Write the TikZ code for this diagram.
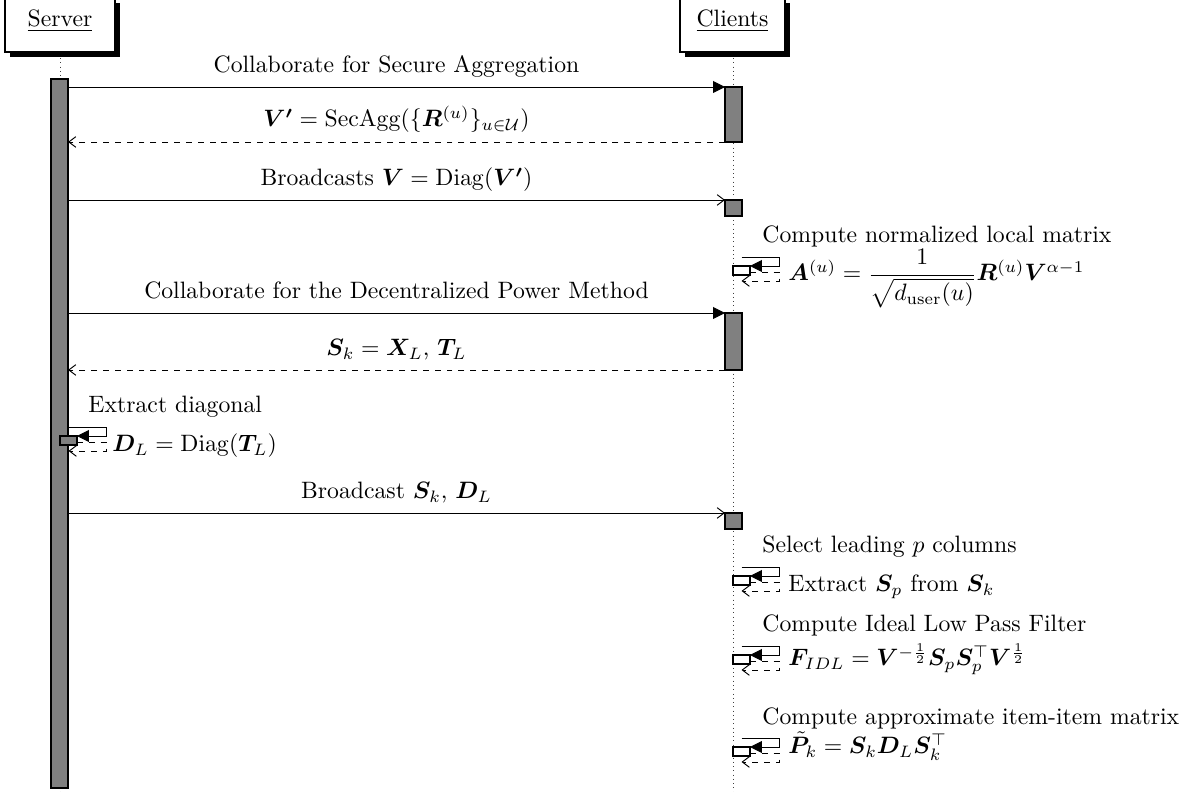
\documentclass[tikz,border=0pt]{standalone}
\usepackage{amsmath,amssymb,bm}
\usetikzlibrary{arrows.meta}
\definecolor{actgray}{RGB}{128,128,128}
\newcommand\mycall[4]{% #1 lifeline x, #2 top y, #3 box fill, #4 name
  \pgfmathsetmacro\ca{#1+8.5}\pgfmathsetmacro\cb{#1+46}\pgfmathsetmacro\cc{#1+17}%
  \pgfmathsetmacro\ty{#2+9}\pgfmathsetmacro\tb{#2+18}\pgfmathsetmacro\td{#2+15}\pgfmathsetmacro\te{#2+24}%
  \coordinate (#4s) at (\ca,#2);
  \coordinate (#4c1) at (\cb,#2);
  \coordinate (#4c2) at (\cb,\ty);
  \coordinate (#4e) at (\cc,\ty);
  \coordinate (#4r) at (\cc,\td);
  \coordinate (#4c3) at (\cb,\td);
  \coordinate (#4c4) at (\cb,\te);
  \coordinate (#4f) at (\ca,\te);
  \draw[act, fill=#3] (#1,\ty) rectangle (\cc,\tb);
  \draw[callmsg] (#4s) -- (#4c1) -- (#4c2) -- (#4e);
  \draw[retmsg] (#4r) -- (#4c3) -- (#4c4) -- (#4f);
}
\begin{document}
\begin{tikzpicture}[x=0.422pt,y=-0.422pt,
  lifeline/.style={draw=black!75, line width=0.4pt, dash pattern=on 0.4pt off 1.4pt},
  act/.style={draw=black, fill=actgray, line width=0.5pt},
  callmsg/.style={draw=black, line width=0.4pt, -{Triangle[length=5pt,width=5pt]}},
  asyncmsg/.style={draw=black, line width=0.4pt, -{Straight Barb[length=3pt,width=4.5pt]}},
  retmsg/.style={draw=black, line width=0.4pt, dash pattern=on 2.5pt off 2.5pt, -{Straight Barb[length=3pt,width=4.5pt]}},
  msglabel/.style={anchor=base, inner sep=0pt},
  sidelabel/.style={anchor=base west, inner sep=0pt},
  instbox/.style={draw=black, fill=white, line width=0.5pt}]
\useasboundingbox (0,0) rectangle (1201,792);
% instances
\fill[black] (10,3) rectangle (120,57);
\draw[instbox] (5,-3) rectangle (115,52);
\node[msglabel] (server) at (60,27) {\underline{Server}};
\fill[black] (685,3) rectangle (790,57);
\draw[instbox] (680,-3) rectangle (785,52);
\node[msglabel] (clients) at (732.5,27) {\underline{Clients}};
% lifelines
\coordinate (sl0) at (60,58);
\coordinate (sl1) at (60,792);
\coordinate (cl0) at (733,58);
\coordinate (cl1) at (733,792);
\draw[lifeline] (sl0) -- (sl1);
\draw[lifeline] (cl0) -- (cl1);
% activations
\draw[act] (51,79) rectangle (68,788);
\draw[act] (725,87) rectangle (742,142);
\draw[act] (725,200) rectangle (742,216);
\draw[act] (725,313) rectangle (742,370);
\draw[act] (725,513) rectangle (742,529);
% message end points
\coordinate (m1s) at (68,87);   \coordinate (m1e) at (725,87);
\coordinate (r1s) at (725,142); \coordinate (r1e) at (68,142);
\coordinate (m2s) at (68,200);  \coordinate (m2e) at (725,200);
\coordinate (m3s) at (68,313);  \coordinate (m3e) at (725,313);
\coordinate (r3s) at (725,370); \coordinate (r3e) at (68,370);
\coordinate (m4s) at (68,513);  \coordinate (m4e) at (725,513);
\draw[callmsg] (m1s) -- (m1e);
\node[msglabel] (l1) at (396.5,73) {Collaborate for Secure Aggregation};
\draw[retmsg] (r1s) -- (r1e);
\node[msglabel] (l2) at (396.5,127) {$\bm{V'} = \mathrm{SecAgg}(\{\bm{R}^{(u)}\}_{u\in\mathcal{U}})$};
\draw[asyncmsg] (m2s) -- (m2e);
\node[msglabel] (l3) at (396.5,186) {Broadcasts $\bm{V} = \mathrm{Diag}(\bm{V'})$};
\draw[callmsg] (m3s) -- (m3e);
\node[msglabel] (l4) at (396.5,299) {Collaborate for the Decentralized Power Method};
\draw[retmsg] (r3s) -- (r3e);
\node[msglabel] (l5) at (396.5,356) {$\bm{S}_k = \bm{X}_L$, $\bm{T}_L$};
\draw[asyncmsg] (m4s) -- (m4e);
\node[msglabel] (l6) at (396.5,499) {Broadcast $\bm{S}_k$, $\bm{D}_L$};
% self calls
\mycall{733}{257}{white}{sc1}
\node[sidelabel] (sc1op) at (762,243) {Compute normalized local matrix};
\node[sidelabel] (sc1ret) at (788,281) {$\bm{A}^{(u)} = \dfrac{1}{\sqrt{d_{\mathrm{user}}(u)}}\bm{R}^{(u)}\bm{V}^{\alpha-1}$};
\mycall{60}{427}{actgray}{sc2}
\node[sidelabel] (sc2op) at (88,413) {Extract diagonal};
\node[sidelabel] (sc2ret) at (112,452) {$\bm{D}_L = \mathrm{Diag}(\bm{T}_L)$};
\mycall{733}{567}{white}{sc3}
\node[sidelabel] (sc3op) at (762,553) {Select leading $p$ columns};
\node[sidelabel] (sc3ret) at (788,592) {Extract $\bm{S}_p$ from $\bm{S}_k$};
\mycall{733}{646}{white}{sc4}
\node[sidelabel] (sc4op) at (762,632) {Compute Ideal Low Pass Filter};
\node[sidelabel] (sc4ret) at (788,666) {$\bm{F}_{IDL} = \bm{V}^{-\frac{1}{2}}\bm{S}_p\bm{S}_p^\top\bm{V}^{\frac{1}{2}}$};
\mycall{733}{738}{white}{sc5}
\node[sidelabel] (sc5op) at (762,725) {Compute approximate item-item matrix};
\node[sidelabel] (sc5ret) at (788,754) {$\tilde{\bm{P}}_k = \bm{S}_k\bm{D}_L\bm{S}_k^\top$};
\end{tikzpicture}
\end{document}
